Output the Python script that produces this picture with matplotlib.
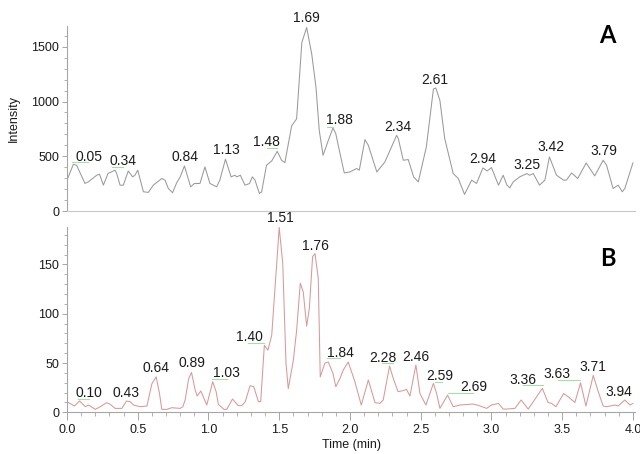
import matplotlib
matplotlib.use("Agg")
import matplotlib.pyplot as plt
from matplotlib.ticker import MultipleLocator

plt.rcParams['font.family'] = ['Liberation Sans', 'DejaVu Sans']

# --- trace A (grey) ---
time_a = [0.0, 0.045, 0.068, 0.127, 0.15, 0.21, 0.23, 0.257, 0.29, 0.34, 0.351, 0.375, 0.398,
          0.433, 0.464, 0.48, 0.50, 0.54, 0.575, 0.61, 0.67, 0.693, 0.716, 0.746, 0.775, 0.80,
          0.83, 0.874, 0.90, 0.94, 0.975, 1.01, 1.058, 1.08, 1.12, 1.16, 1.187, 1.20, 1.225,
          1.258, 1.29, 1.31, 1.329, 1.36, 1.376, 1.41, 1.447, 1.486, 1.517, 1.54, 1.588, 1.623,
          1.66, 1.694, 1.73, 1.76, 1.783, 1.81, 1.847, 1.88, 1.90, 1.93, 1.96, 2.0, 2.047,
          2.066, 2.106, 2.13, 2.19, 2.247, 2.33, 2.342, 2.377, 2.412, 2.45, 2.483, 2.54, 2.59,
          2.607, 2.636, 2.67, 2.73, 2.766, 2.81, 2.86, 2.895, 2.94, 2.97, 3.0, 3.05, 3.083,
          3.11, 3.13, 3.154, 3.2, 3.25, 3.27, 3.296, 3.34, 3.378, 3.41, 3.46, 3.51, 3.53,
          3.567, 3.61, 3.67, 3.73, 3.79, 3.814, 3.86, 3.896, 3.925, 3.943, 4.0]
int_a = [282, 427, 418, 252, 266, 327, 336, 236, 343, 373, 343, 236, 236,
         366, 312, 327, 373, 176, 170, 236, 297, 282, 206, 167, 257, 312,
         412, 221, 251, 252, 403, 252, 221, 282, 473, 312, 327, 312, 327,
         236, 251, 312, 282, 160, 176, 418, 457, 545, 463, 442, 778, 842,
         1540, 1676, 1433, 1130, 736, 509, 645, 760, 706, 524, 348, 357, 388,
         373, 652, 600, 357, 448, 691, 661, 464, 470, 312, 266, 585, 1115,
         1124, 1009, 661, 342, 297, 152, 282, 252, 394, 366, 397, 236, 327,
         236, 212, 266, 312, 342, 327, 342, 236, 282, 494, 327, 282, 282,
         348, 297, 439, 321, 464, 418, 206, 236, 176, 206, 439]

# --- trace B (red) ---
time_b = [0.0, 0.052, 0.089, 0.13, 0.153, 0.2, 0.235, 0.28, 0.306, 0.34, 0.388, 0.42, 0.447,
          0.47, 0.518, 0.565, 0.60, 0.63, 0.654, 0.67, 0.706, 0.74, 0.80, 0.819, 0.835, 0.86,
          0.88, 0.906, 0.92, 0.946, 0.988, 1.03, 1.054, 1.07, 1.11, 1.129, 1.17, 1.21, 1.235,
          1.26, 1.294, 1.32, 1.353, 1.369, 1.395, 1.42, 1.447, 1.50, 1.525, 1.548, 1.564,
          1.60, 1.623, 1.649, 1.67, 1.694, 1.713, 1.736, 1.753, 1.776, 1.79, 1.823, 1.847,
          1.88, 1.90, 1.93, 1.953, 1.988, 2.035, 2.08, 2.13, 2.177, 2.212, 2.235, 2.28, 2.306,
          2.34, 2.377, 2.40, 2.424, 2.466, 2.495, 2.537, 2.59, 2.613, 2.636, 2.69, 2.73, 2.777,
          2.87, 2.907, 2.966, 3.0, 3.05, 3.083, 3.107, 3.166, 3.21, 3.26, 3.296, 3.36, 3.40,
          3.425, 3.456, 3.51, 3.543, 3.59, 3.63, 3.668, 3.72, 3.755, 3.79, 3.814, 3.873,
          3.896, 3.943, 3.979, 4.0]
int_b = [10.8, 6.4, 11.5, 5.7, 7.4, 3.0, 5.7, 9.8, 8.1, 4.0, 4.0, 11.5, 10.8,
         7.4, 5.7, 6.4, 29, 36, 19, 3, 3, 4.7, 4.0, 5.7, 12.5, 34,
         40.5, 22.6, 16.6, 21.6, 7.4, 31, 21, 8, 3, 3, 13.5, 6.8, 6.8,
         10.8, 27, 26, 10.8, 10.8, 68, 63, 78, 187.5, 151, 49.7, 24,
         53, 83, 131, 122, 87.5, 105.5, 158, 161, 136, 36, 50, 51,
         39.5, 26, 34.5, 43, 51, 31, 7.4, 32.8, 9.8, 9.1, 12.5, 47, 34.5,
         21, 22, 23.3, 16.5, 48, 19, 7.4, 29.4, 19, 4, 17.5, 5.7, 7.4,
         8.4, 7.1, 4, 7.4, 9, 3.3, 3.3, 4, 12.5, 3.3, 10.8, 24.3, 10,
         9.1, 5.7, 19, 15.8, 10, 30, 6.4, 37.5, 21, 6.4, 5.7, 7.4,
         6.4, 12.5, 7.4, 9]

# peak labels: text, label x, label y
labels_a = ['0.05', '0.34', '0.84', '1.13', '1.48', '1.69', '1.88', '2.34', '2.61',
            '2.94', '3.25', '3.42', '3.79']
lab_x_a = [0.155, 0.399, 0.834, 1.124, 1.413, 1.694, 1.928, 2.336, 2.599, 2.94, 3.251, 3.42, 3.792]
lab_y_a = [491, 455, 491, 555, 627, 1764, 836, 764, 1200, 473, 418, 582, 545]

labels_b = ['0.10', '0.43', '0.64', '0.89', '1.03', '1.40', '1.51', '1.76', '1.84', '2.28',
            '2.46', '2.59', '2.69', '3.36', '3.63', '3.71', '3.94']
lab_x_b = [0.155, 0.417, 0.629, 0.88, 1.124, 1.286, 1.509, 1.758, 1.935, 2.23, 2.465,
           2.633, 2.876, 3.223, 3.466, 3.714, 3.901]
lab_y_b = [19.6, 19.6, 44.9, 50, 39.9, 76.4, 197, 169, 60, 55, 56, 36.8, 25.7, 32.8,
           38.8, 46, 20.6]

# small green integration baselines: x0, x1, y
base_a = [(0.035, 0.148, 445), (0.318, 0.396, 400), (1.413, 1.484, 573), (1.837, 1.88, 764)]
base_b = [(0.078, 0.155, 13.5), (1.025, 1.131, 33.3), (1.279, 1.392, 70.3), (1.837, 1.93, 55),
          (2.226, 2.304, 50), (2.60, 2.65, 30.7), (2.69, 2.87, 19.6), (3.223, 3.364, 27.7),
          (3.47, 3.625, 32.8), (3.894, 3.943, 18.5)]

axis_col = '#a6a6a6'
txt_col = '#1a1a1a'

fig = plt.figure(figsize=(6.4, 4.54), dpi=100)
ax_a = fig.add_axes([0.1047, 0.5352, 0.8875, 0.4075])
ax_b = fig.add_axes([0.1047, 0.0918, 0.8875, 0.4082])


def style(ax, ymax, major, minor):
    ax.set_xlim(0, 4.015)
    ax.set_ylim(0, ymax)
    for s in ['top', 'right']:
        ax.spines[s].set_visible(False)
    ax.spines['left'].set_color(axis_col)
    ax.spines['bottom'].set_color('#c8c8c8')
    ax.yaxis.set_major_locator(MultipleLocator(major))
    ax.yaxis.set_minor_locator(MultipleLocator(minor))
    ax.tick_params(axis='y', which='major', length=3.6, width=0.7, color=axis_col,
                   labelsize=9, labelcolor=txt_col, pad=2)
    ax.tick_params(axis='y', which='minor', length=2.2, width=0.6, color=axis_col)


style(ax_a, 1690, 500, 100)
style(ax_b, 188, 50, 10)

ax_a.plot(time_a, int_a, color='#9a9a9a', lw=0.75)
ax_b.plot(time_b, int_b, color='#d9989a', lw=0.75)

# panel A: no x ticks
ax_a.tick_params(axis='x', which='both', bottom=False, labelbottom=False)

ax_b.xaxis.set_major_locator(MultipleLocator(0.5))
ax_b.xaxis.set_minor_locator(MultipleLocator(0.1))
ax_b.spines['bottom'].set_color(axis_col)
ax_b.tick_params(axis='x', which='major', length=5.5, width=0.7, color=axis_col,
                 labelsize=9, labelcolor=txt_col, pad=3)
ax_b.tick_params(axis='x', which='minor', length=3.1, width=0.6, color=axis_col)
ax_b.set_xticks([0.0, 0.5, 1.0, 1.5, 2.0, 2.5, 3.0, 3.5, 4.0])
ax_b.set_xticklabels(['0.0', '0.5', '1.0', '1.5', '2.0', '2.5', '3.0', '3.5', '4.0'])
for lbl in ax_b.get_xticklabels():
    lbl.set_clip_on(False)

ax_a.set_ylabel('Intensity', fontsize=9, color=txt_col)
ax_a.yaxis.set_label_coords(-0.083, 0.5)
ax_b.set_xlabel('Time (min)', fontsize=9, color=txt_col, labelpad=2)

for ax, labs, xs, ys, bases in [(ax_a, labels_a, lab_x_a, lab_y_a, base_a),
                                (ax_b, labels_b, lab_x_b, lab_y_b, base_b)]:
    for t, x, y in zip(labs, xs, ys):
        ax.text(x, y, t, ha='center', va='center', fontsize=10, color=txt_col, clip_on=False)
    for x0, x1, y in bases:
        ax.plot([x0, x1], [y, y], color='#a8dca8', lw=0.8)

ax_a.text(3.82, 1600, 'A', fontsize=17, fontweight='bold', family='Lato',
          ha='center', va='center', color='black')
ax_b.text(3.82, 156, 'B', fontsize=17, fontweight='bold', family='Lato',
          ha='center', va='center', color='black')

fig.savefig('out.png', dpi=100, facecolor='white')
